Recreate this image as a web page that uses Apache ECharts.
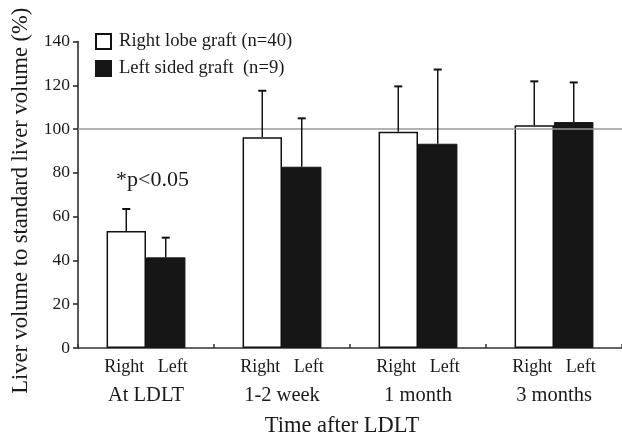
<!DOCTYPE html>
<html>
<head>
<meta charset="utf-8">
<script src="https://cdn.jsdelivr.net/npm/echarts@6/dist/echarts.min.js"></script>
<style>html,body{margin:0;padding:0;background:#fff;}#c{width:622px;height:437px;}</style>
</head>
<body>
<div id="c"></div>
<script>
const categories = ['At LDLT', '1-2 week', '1 month', '3 months'];
const rightMean = [53.4, 96.3, 98.8, 101.7];
const rightUpper = [63.5, 117.5, 119.5, 121.8];
const leftMean = [41.4, 82.8, 93.3, 103.2];
const leftUpper = [50.4, 104.9, 127.2, 121.3];
const yTicks = [0, 20, 40, 60, 80, 100, 120, 140];
const refValue = 100;

const FONT = 'Liberation Serif';
const BAR_FRAC = 0.29;

function errorSeries(name, means, uppers, side) {
  return {
    type: 'custom',
    name: name + ' err',
    z: 5,
    silent: true,
    data: means.map((m, i) => [i, m, uppers[i]]),
    renderItem: function (params, api) {
      const idx = api.value(0);
      const bandW = api.size([1, 0])[0];
      const off = side * bandW * BAR_FRAC / 2;
      const p0 = api.coord([idx, api.value(1)]);
      const p1 = api.coord([idx, api.value(2)]);
      const x = p0[0] + off;
      const cap = 4;
      return {
        type: 'group',
        children: [
          { type: 'line', shape: { x1: x, y1: p0[1], x2: x, y2: p1[1] }, style: { stroke: '#111', lineWidth: 1.5 } },
          { type: 'line', shape: { x1: x - cap, y1: p1[1], x2: x + cap, y2: p1[1] }, style: { stroke: '#111', lineWidth: 2 } }
        ]
      };
    }
  };
}

const chart = echarts.init(document.getElementById('c'), null, { renderer: 'canvas' });
chart.setOption({
  animation: false,
  backgroundColor: '#fff',
  grid: { left: 78, right: 0, top: 41.5, bottom: 89, containLabel: false, outerBoundsMode: 'none' },
  legend: {
    orient: 'vertical',
    left: 90,
    top: 27,
    itemWidth: 15,
    itemHeight: 15,
    itemGap: 8,
    icon: 'rect',
    textStyle: { fontFamily: FONT, fontSize: 18.6, color: '#1a1a1a', padding: [0, 0, 0, 3] },
    data: ['Right lobe graft (n=40)', 'Left sided graft  (n=9)']
  },
  xAxis: {
    type: 'category',
    data: categories,
    name: 'Time after LDLT',
    nameLocation: 'middle',
    nameGap: 67,
    nameTextStyle: { fontFamily: FONT, fontSize: 22.5, color: '#1a1a1a', padding: [0, 16, 0, 0] },
    axisLine: { lineStyle: { color: '#333', width: 1.5 } },
    axisTick: { show: true, inside: true, length: 4, lineStyle: { color: '#333', width: 1.5 } },
    axisLabel: {
      margin: 5,
      formatter: function (v) { return '{s|Right   Left}\n{g|' + v + '}'; },
      rich: {
        s: { fontFamily: FONT, fontSize: 18, lineHeight: 28, color: '#1a1a1a' },
        g: { fontFamily: FONT, fontSize: 20.5, lineHeight: 30, color: '#1a1a1a' }
      }
    },
    splitLine: { show: false }
  },
  yAxis: {
    type: 'value',
    min: yTicks[0],
    max: yTicks[yTicks.length - 1],
    interval: 20,
    name: 'Liver volume to standard liver volume (%)',
    nameLocation: 'middle',
    nameGap: 44,
    nameTextStyle: { fontFamily: FONT, fontSize: 22.5, color: '#1a1a1a', padding: [0, 12, 0, 0] },
    axisLine: { show: true, lineStyle: { color: '#222', width: 1.5 } },
    axisTick: { show: true, inside: false, length: 5, lineStyle: { color: '#222', width: 1.5 } },
    axisLabel: { fontFamily: FONT, fontSize: 17.5, color: '#1a1a1a', margin: 8 },
    splitLine: { show: false }
  },
  series: [
    {
      type: 'bar',
      name: 'Right lobe graft (n=40)',
      data: rightMean,
      barWidth: (BAR_FRAC * 100) + '%',
      barGap: '0%',
      itemStyle: { color: '#fff', borderColor: '#111', borderWidth: 1.5 },
      markLine: {
        silent: true,
        symbol: 'none',
        label: { show: false },
        lineStyle: { color: '#999', width: 1.5, type: 'solid' },
        data: [{ yAxis: refValue }]
      }
    },
    {
      type: 'bar',
      name: 'Left sided graft  (n=9)',
      data: leftMean,
      barWidth: (BAR_FRAC * 100) + '%',
      barGap: '0%',
      itemStyle: { color: '#161616', borderColor: '#161616', borderWidth: 1 }
    },
    errorSeries('right', rightMean, rightUpper, -1),
    errorSeries('left', leftMean, leftUpper, 1)
  ],
  graphic: [
    { type: 'text', left: 116, top: 169, style: { text: '*p<0.05', fontFamily: FONT, fontSize: 22, fill: '#1a1a1a' } }
  ]
});
</script>
</body>
</html>
